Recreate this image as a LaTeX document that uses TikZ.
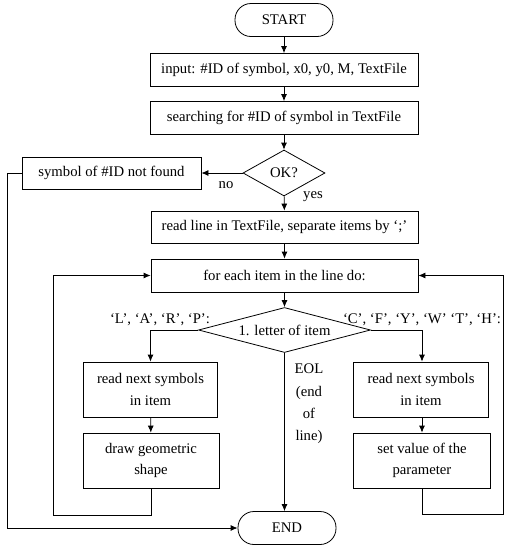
\documentclass[tikz,border=0pt]{standalone}
\usepackage{fontspec}
\setmainfont{Liberation Serif}
\usetikzlibrary{arrows.meta,shapes.geometric}

\begin{document}
\begin{tikzpicture}[x=1pt,y=-1pt,line width=0.8pt,
    >={Latex[length=7pt,width=6pt]},
    every node/.style={font=\fontsize{14.7}{21.5}\selectfont},
    box/.style={draw,rectangle,inner sep=0pt,align=center},
    term/.style={draw,rectangle,rounded corners=16pt,minimum width=98pt,minimum height=33pt},
    decision/.style={draw,diamond,inner sep=0pt},
    lbl/.style={inner sep=0pt,align=center}]
  \useasboundingbox (0,0) rectangle (509,550);

  % main column
  \node[term] (start) at (284,20) {START};
  \node[box,minimum width=268,minimum height=33] (input) at (284,70) {input: \#ID of symbol, x0, y0, M, TextFile};
  \node[box,minimum width=268,minimum height=33] (search) at (284,118) {searching for \#ID of symbol in TextFile};
  \node[decision,minimum width=82,minimum height=46,shape aspect=1.8] (ok) at (284,173) {OK?};
  \node[box,minimum width=179,minimum height=32] (notfound) at (111.5,173) {symbol of \#ID not found};
  \node[box,minimum width=267,minimum height=32] (readline) at (284.5,227) {read line in TextFile, separate items by ‘;’};
  \node[box,minimum width=267,minimum height=33] (foreach) at (284.5,275.5) {for each item in the line do:};
  \node[decision,minimum width=172,minimum height=45,shape aspect=3.8] (letter) at (284.5,330) {1. letter of item};

  % branches
  \node[box,minimum width=134,minimum height=55] (readL) at (150.5,389.5) {read next symbols\\in item};
  \node[box,minimum width=136,minimum height=55] (drawshape) at (151,460.5) {draw geometric\\shape};
  \node[box,minimum width=135,minimum height=55] (readR) at (421,389.5) {read next symbols\\in item};
  \node[box,minimum width=137,minimum height=55] (setval) at (422,460.5) {set value of the\\parameter};
  \node[term] (end) at (287,528) {END};

  % labels
  \node[lbl] (no) at (226,185) {no};
  \node[lbl] (yes) at (313,197) {yes};
  \node[lbl] (caseL) at (160,320) {‘L’, ‘A’, ‘R’, ‘P’:};
  \node[lbl] (caseR) at (422,320) {‘C’, ‘F’, ‘Y’, ‘W’ ‘T’, ‘H’:};
  \node[lbl,font=\fontsize{14.7}{22.3}\selectfont] (eol) at (309,404) {EOL\\(end\\of\\line)};

  % loop corners
  \coordinate (loopL) at (53,515);
  \coordinate (loopR) at (503,514);
  \coordinate (outL) at (7,528);

  % arrows
  \draw[->] (start) -- (input);
  \draw[->] (input) -- (search);
  \draw[->] (search) -- (ok);
  \draw[->] (ok) -- (notfound);
  \draw[->] (ok) -- (readline);
  \draw[->] (readline) -- (foreach);
  \draw[->] (foreach) -- (letter);
  \draw[->] (letter.west) -| (readL.north);
  \draw[->] (letter.east) -| (setval.north |- readR.north);
  \draw[->] (readL) -- (drawshape);
  \draw[->] (readR.south -| setval.north) -- (setval.north);
  \draw[->] (letter.south) -- (letter.south |- end.north);
  \draw[->] (drawshape.south) |- (loopL) |- (foreach.west);
  \draw[->] (setval.south) |- (loopR) |- (foreach.east);
  \draw[->] (notfound.west) -| (outL) -- (end.west);
\end{tikzpicture}
\end{document}
